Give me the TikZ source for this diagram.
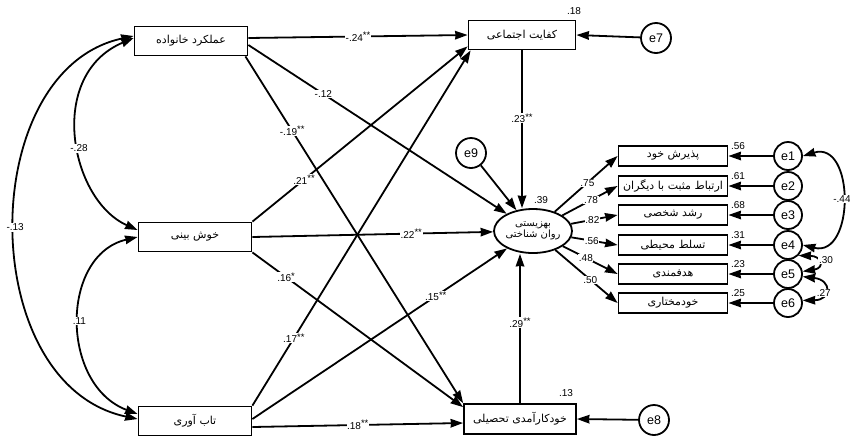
\documentclass[tikz,border=0pt]{standalone}
\usepackage{fontspec}
\setmainfont{Liberation Sans}
\newfontfamily\fafont[Script=Arabic]{DejaVu Sans}
\TeXXeTstate=1
\usetikzlibrary{arrows.meta,shapes.geometric}
\newcommand{\fatxt}[1]{{\fafont\beginR #1\endR}}
\newcommand{\sig}[1]{\raisebox{2.5pt}{\fontsize{9.5}{9.5}\selectfont #1}}
\begin{document}
\begin{tikzpicture}[x=1pt,y=-1pt,
  >={Stealth[length=12.5pt,width=8.5pt,inset=0.5pt]},
  arr/.style={line width=1.8pt,->},
  cov/.style={line width=1.8pt,<->},
  box/.style={draw,line width=1.8pt,rectangle,minimum width=113pt,minimum height=29pt,inner sep=1pt,font=\fontsize{11}{12}\selectfont},
  ind/.style={box,minimum width=109pt,minimum height=20pt},
  err/.style={circle,draw,line width=1.8pt,minimum size=28pt,inner sep=0pt,font=\fontsize{12.5}{14}\selectfont},
  lbl/.style={fill=white,inner sep=0.6pt,font=\fontsize{10}{11}\selectfont},
  rsq/.style={inner sep=0pt,font=\fontsize{10}{11}\selectfont}]
\useasboundingbox[fill=white] (0,0) rectangle (850,440);

% exogenous
\node[box] (A) at (191,41) {\fatxt{عملکرد خانواده}};
\node[box] (B) at (195,237) {\fatxt{خوش بینی}};
\node[box] (C) at (195,421) {\fatxt{تاب آوری}};
% mediators
\node[box,minimum width=107pt] (K) at (522,35) {\fatxt{کفایت اجتماعی}};
\node[box,minimum width=112pt,minimum height=30pt] (D) at (520,419) {\fatxt{خودکارآمدی تحصیلی}};
% latent
\node[ellipse,draw,line width=1.8pt,minimum width=78pt,minimum height=44pt,inner sep=0pt,align=center,font=\fontsize{10}{11.5}\selectfont] (P) at (533,231) {\fatxt{بهزیستی}\\\fatxt{روان شناختی}};
% indicators
\node[ind] (M1) at (673,156) {\fatxt{پذیرش خود}};
\node[ind] (M2) at (673,186) {\fatxt{ارتباط مثبت با دیگران}};
\node[ind] (M3) at (673,215) {\fatxt{رشد شخصی}};
\node[ind] (M4) at (673,245) {\fatxt{تسلط محیطی}};
\node[ind] (M5) at (673,274) {\fatxt{هدفمندی}};
\node[ind] (M6) at (673,303) {\fatxt{خودمختاری}};
% errors
\node[err] (e1) at (788,156) {e1};
\node[err] (e2) at (788,186) {e2};
\node[err] (e3) at (788,215) {e3};
\node[err] (e4) at (788,245) {e4};
\node[err] (e5) at (788,274) {e5};
\node[err] (e6) at (788,303) {e6};
\node[err,minimum size=30pt] (e7) at (656,38) {e7};
\node[err,minimum size=30pt] (e8) at (654,420) {e8};
\node[err,minimum size=30pt] (e9) at (471,153) {e9};

% squared multiple correlations
\node[rsq] (r1) at (574,11) {.18};
\node[rsq] (r2) at (541,200) {.39};
\node[rsq] (r3) at (566,393) {.13};
\node[rsq] (r4) at (738,146) {.56};
\node[rsq] (r5) at (738,176) {.61};
\node[rsq] (r6) at (738,205) {.68};
\node[rsq] (r7) at (738,235) {.31};
\node[rsq] (r8) at (738,264) {.23};
\node[rsq] (r9) at (738,293) {.25};

% structural paths
\draw[arr] ([yshift=3pt]A.east) -- (K.west) node[lbl,pos=0.5] (l1) {-.24\sig{**}};
\draw[arr] ([yshift=-4pt]A.east) -- (P) node[lbl,pos=0.29] (l2) {-.12};
\draw[arr] ([xshift=-3pt]A.south east) -- (D.north west) node[lbl,pos=0.215] (l3) {-.19\sig{**}};
\draw[arr] (B.north east) -- ([yshift=4pt]K.south west) node[lbl,pos=0.24] (l4) {.21\sig{**}};
\draw[arr] (B.east) -- (P) node[lbl,pos=0.66] (l5) {.22\sig{**}};
\draw[arr] (B.south east) -- ([yshift=-4pt]D.north west) node[lbl,pos=0.16] (l6) {.16\sig{*}};
\draw[arr] (C.north east) -- ([xshift=3pt]K.south west) node[lbl,pos=0.19] (l7) {.17\sig{**}};
\draw[arr] ([yshift=2pt]C.east) -- (P) node[lbl,pos=0.72] (l8) {.15\sig{**}};
\draw[arr] ([yshift=-6pt]C.east) -- ([yshift=-4pt]D.west) node[lbl,pos=0.5] (l9) {.18\sig{**}};
\draw[arr] (K.south) -- (K.south |- P.north) node[lbl,pos=0.43] (l10) {.23\sig{**}};
\draw[arr] (D.north) -- (D.north |- P.south) node[lbl,pos=0.54] (l11) {.29\sig{**}};
\draw[arr] (e7) -- (K.east);
\draw[arr] (e8) -- (D.east);
\draw[arr] (e9) -- (P);

% measurement paths
\draw[arr] (P) -- (M1.west) node[lbl,pos=0.52] (m1) {.75};
\draw[arr] (P) -- (M2.west) node[lbl,pos=0.52] (m2) {.78};
\draw[arr] (P) -- (M3.west) node[lbl,pos=0.46] (m3) {.82};
\draw[arr] (P) -- (M4.west) node[lbl,pos=0.44] (m4) {.56};
\draw[arr] (P) -- (M5.west) node[lbl,pos=0.42] (m5) {.48};
\draw[arr] (P) -- (M6.west) node[lbl,pos=0.56] (m6) {.50};
\draw[arr] (e1) -- (M1.east);
\draw[arr] (e2) -- (M2.east);
\draw[arr] (e3) -- (M3.east);
\draw[arr] (e4) -- (M4.east);
\draw[arr] (e5) -- (M5.east);
\draw[arr] (e6) -- (M6.east);

% covariances (left)
\draw[cov] ([yshift=5pt]A.west) .. controls (-25,70) and (-25,385) .. ([yshift=2pt]C.west) node[lbl,pos=0.5] (c1) {-.13};
\draw[cov] ([yshift=3pt]A.west) .. controls (46,75) and (70,200) .. ([yshift=7pt]B.west) node[lbl,pos=0.55] (c2) {-.28};
\draw[cov] (B.west) .. controls (60,255) and (60,385) .. ([yshift=7pt]C.west) node[lbl,pos=0.5] (c3) {.11};
% covariances (right)
\draw[cov] (e1.east) .. controls (855,140) and (855,258) .. (e4.east) node[lbl,pos=0.5] (c4) {-.44};
\draw[cov] (e4.-45) .. controls (822,256) and (825,268) .. (e5.10) node[lbl,pos=0.4,right=1pt] (c5) {.30};
\draw[cov] (e5.-10) .. controls (832,280) and (832,300) .. (e6.10) node[lbl,pos=0.6] (c6) {.27};
\end{tikzpicture}
\end{document}
